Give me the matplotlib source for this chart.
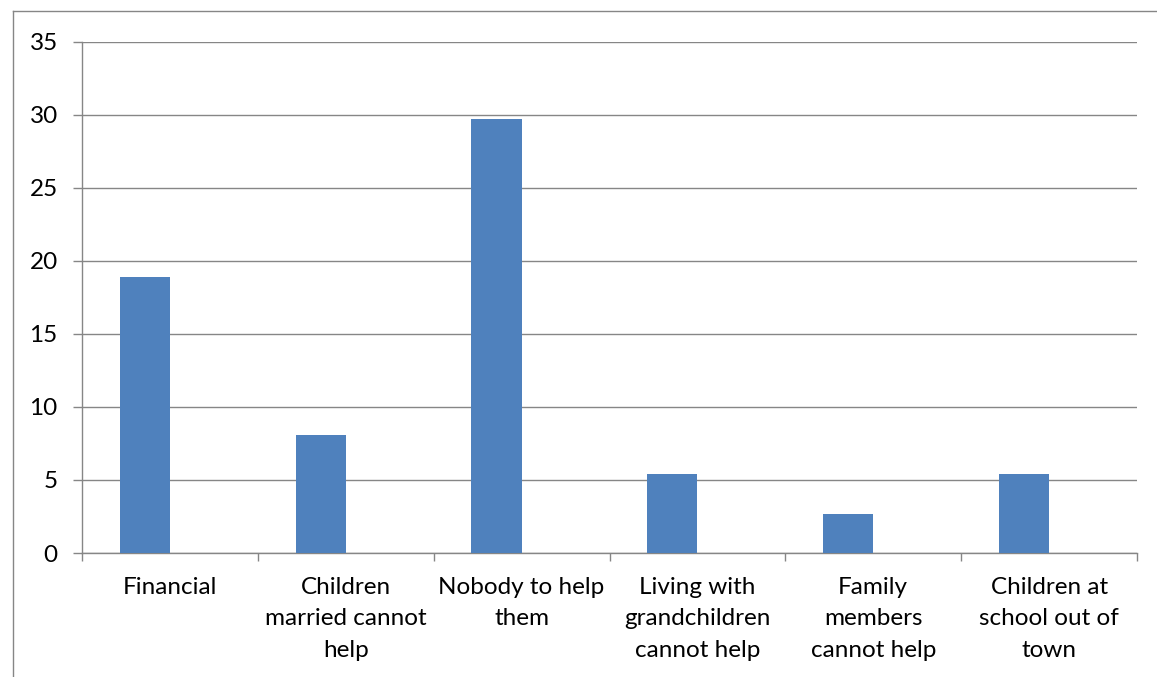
import numpy as np
import matplotlib.pyplot as plt
from matplotlib.lines import Line2D

categories = ["Financial", "Children\nmarried cannot\nhelp", "Nobody to help\nthem",
              "Living with\ngrandchildren\ncannot help", "Family\nmembers\ncannot help",
              "Children at\nschool out of\ntown"]
values = [18.9, 8.1, 29.7, 5.4, 2.7, 5.4]
y_ticks = [0, 5, 10, 15, 20, 25, 30, 35]

plt.rcParams['font.family'] = ['Lato', 'DejaVu Sans']
grey = '#868686'

fig = plt.figure(figsize=(11.57, 6.77), dpi=100)
ax = fig.add_axes([82 / 1157, 1 - 553 / 677, (1137 - 82) / 1157, (553 - 41.5) / 677])

# Excel layout: two-slot cluster, gap 150%, second slot empty
n = len(categories)
x = np.arange(n)
bw = 1 / 3.5
ax.bar(x + 0.75 * bw + bw / 2, values, width=bw, color='#4F81BD', zorder=3, align='center')

ax.set_xlim(0, n)
ax.set_ylim(0, 35)
ax.set_yticks(y_ticks)
ax.yaxis.grid(True, color=grey, linewidth=1, zorder=0)
ax.set_xticks(np.arange(n + 1))
ax.set_xticklabels([])
ax.set_xticks(x + 0.5, minor=True)
ax.set_xticklabels(categories, minor=True, fontsize=17.5, linespacing=1.63)
ax.tick_params(axis='x', which='major', length=5.8, color=grey, width=1, direction='out')
ax.tick_params(axis='x', which='minor', length=0, pad=17)
ax.tick_params(axis='y', length=6.5, color=grey, width=1, labelsize=17.5, pad=11)

for s in ['top', 'right']:
    ax.spines[s].set_visible(False)
for s in ['left', 'bottom']:
    ax.spines[s].set_color(grey)
    ax.spines[s].set_linewidth(1)

# outer chart border (top and left visible)
fig.add_artist(Line2D([13 / 1157, 13 / 1157], [0, 1 - 11 / 677], transform=fig.transFigure,
                      color=grey, linewidth=1))
fig.add_artist(Line2D([13 / 1157, 1], [1 - 11 / 677, 1 - 11 / 677], transform=fig.transFigure,
                      color=grey, linewidth=1))

fig.savefig('out.png', dpi=100)
